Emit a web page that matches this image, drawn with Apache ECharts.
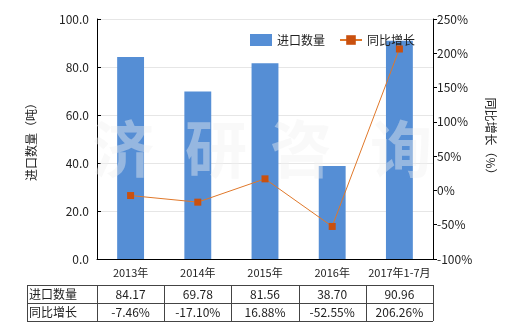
<!DOCTYPE html>
<html><head><meta charset="utf-8">
<script src="https://cdn.jsdelivr.net/npm/echarts@6/dist/echarts.min.js"></script>
<style>html,body{margin:0;padding:0;background:#fff}#c{width:520px;height:330px}</style>
</head><body><div id="c"></div>
<script>
var categories = ['2013年','2014年','2015年','2016年','2017年1-7月'];
var importQty = [84.17, 69.78, 81.56, 38.70, 90.96];
var yoyGrowth = [-7.46, -17.10, 16.88, -52.55, 206.26];
var qtyLabels = ['84.17','69.78','81.56','38.70','90.96'];
var growthLabels = ['-7.46%','-17.10%','16.88%','-52.55%','206.26%'];
var rowNames = ['进口数量','同比增长'];

var FONT = '"Noto Sans CJK SC", "Noto Sans", sans-serif';
var G = {left: 97, top: 19, right: 87, bottom: 71};
var W = 520, H = 330;
var gw = W - G.left - G.right;
var colW = gw / categories.length;
var tableLeft = 27, r0 = 285, r1 = 303, r2 = 321;

var graphics = [];
// watermark
var wm = ['济','研','咨','询'];
var wmX = [122, 215, 300, 400];
wm.forEach(function(ch, i){
  graphics.push({type:'text', left: wmX[i]-30, top: 118, silent:true, z: 5,
    style:{text: ch, font: 'bold 62px ' + FONT, fill:'rgba(240,240,240,0.42)'}});
});
// table lines
var lineStyle = {stroke:'#444', lineWidth:1};
[r0, r1, r2].forEach(function(y){
  graphics.push({type:'line', shape:{x1:tableLeft, y1:y+0.5, x2:G.left+gw, y2:y+0.5}, style:lineStyle});
});
var xs = [tableLeft, G.left];
for (var k = 1; k <= categories.length; k++) xs.push(G.left + colW*k);
xs.forEach(function(x){
  x = Math.round(x) + 0.5;
  graphics.push({type:'line', shape:{x1:x, y1:r0, x2:x, y2:r2}, style:lineStyle});
});
// table text
rowNames.forEach(function(n, i){
  graphics.push({type:'text', x: tableLeft+2, y: (i===0 ? (r0+r1)/2 : (r1+r2)/2),
    style:{text:n, font:'12px ' + FONT, fill:'#222', textVerticalAlign:'middle'}});
});
[qtyLabels, growthLabels].forEach(function(arr, i){
  arr.forEach(function(t, j){
    graphics.push({type:'text', x: G.left + colW*(j+0.5), y: (i===0 ? (r0+r1)/2 : (r1+r2)/2),
      style:{text:t, font:'12px ' + FONT, fill:'#222', textAlign:'center', textVerticalAlign:'middle'}});
  });
});

var chart = echarts.init(document.getElementById('c'));
chart.setOption({
  animation:false,
  textStyle:{fontFamily: FONT},
  grid:{left:G.left, top:G.top, right:G.right, bottom:G.bottom},
  legend:{top:29, right:100, itemGap:14, itemWidth:22, itemHeight:12,
    textStyle:{fontSize:12, color:'#222'},
    data:[{name:'进口数量', icon:'rect'},{name:'同比增长'}]},
  xAxis:{type:'category', data:categories,
    axisLine:{lineStyle:{color:'#000'}},
    axisTick:{alignWithLabel:true, length:4, lineStyle:{color:'#000'}},
    axisLabel:{color:'#222', fontSize:11, margin:8, interval:0}},
  yAxis:[
    {type:'value', min:0, max:100, interval:20, name:'进口数量（吨）', nameLocation:'middle', nameGap:60, nameRotate:90,
      nameTextStyle:{fontSize:12, color:'#222'},
      axisLine:{show:true, lineStyle:{color:'#000'}}, axisTick:{show:true, inside:true, length:4, lineStyle:{color:'#000'}},
      axisLabel:{color:'#222', fontSize:12, formatter:function(v){return v.toFixed(1);}},
      splitLine:{lineStyle:{color:'#e6e6e6'}}},
    {type:'value', min:-100, max:250, interval:50, name:'同比增长（%）', nameLocation:'middle', nameGap:52, nameRotate:-90,
      nameTextStyle:{fontSize:12, color:'#222'},
      axisLine:{show:true, lineStyle:{color:'#000'}}, axisTick:{show:true, length:4, lineStyle:{color:'#000'}},
      axisLabel:{color:'#222', fontSize:12, margin:4, formatter:'{value}%'},
      splitLine:{show:false}}
  ],
  series:[
    {name:'进口数量', type:'bar', data:importQty, barWidth:'40%', itemStyle:{color:'#558ed5'}, z:2},
    {name:'同比增长', type:'line', yAxisIndex:1, data:yoyGrowth, symbol:'rect', symbolSize:7,
      lineStyle:{color:'#e0782a', width:1}, itemStyle:{color:'#c9500f'}, z:10}
  ],
  graphic: graphics
});
</script></body></html>
